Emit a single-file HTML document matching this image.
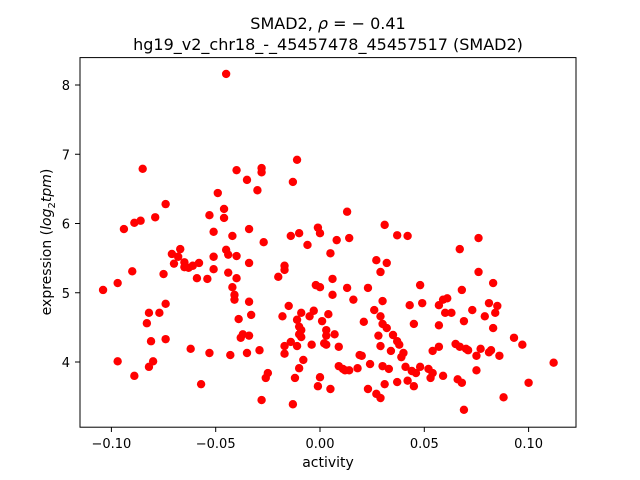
<!DOCTYPE html>
<html><head><meta charset="utf-8"><style>
html,body{margin:0;padding:0;background:#fff;}
svg{display:block;font-family:"DejaVu Sans","Liberation Sans",sans-serif;}
</style></head><body>
<svg id="chart" width="640" height="480" viewBox="0 0 640 480" xmlns="http://www.w3.org/2000/svg">
<rect width="640" height="480" fill="#fff"/>
<text x="328" y="29" font-size="16" text-anchor="middle">SMAD2, <tspan font-style="italic">ρ</tspan> = − 0.41</text>
<text x="328" y="50" font-size="16" text-anchor="middle">hg19_v2_chr18_-_45457478_45457517 (SMAD2)</text>
<g id="marks"></g>
<g id="axes"></g>
<rect x="80" y="57.6" width="496" height="369.6" fill="none" stroke="#000" stroke-width="1"/>
<text x="328" y="467" font-size="14" text-anchor="middle">activity</text>
<text transform="translate(51,242) rotate(-90)" font-size="14" text-anchor="middle">expression (<tspan font-style="italic">log</tspan><tspan font-size="10" dy="4">2</tspan><tspan dy="-4" font-style="italic">tpm</tspan>)</text>
</svg>
<script>
const xTicks=[-0.10,-0.05,0.00,0.05,0.10];
const xTickLabels=["−0.10","−0.05","0.00","0.05","0.10"];
const yTicks=[4,5,6,7,8];
const yTickLabels=["4","5","6","7","8"];
const activity=[-0.104,-0.097,-0.097,-0.094,-0.090,-0.089,-0.086,-0.085,-0.089,-0.083,-0.082,-0.082,-0.081,-0.080,-0.079,-0.077,-0.074,-0.075,-0.074,-0.074,-0.071,-0.070,-0.068,-0.067,-0.065,-0.065,-0.063,-0.062,-0.061,-0.059,-0.058,-0.057,-0.054,-0.053,-0.053,-0.051,-0.051,-0.051,-0.049,-0.046,-0.046,-0.045,-0.045,-0.044,-0.044,-0.043,-0.042,-0.042,-0.041,-0.041,-0.040,-0.040,-0.040,-0.039,-0.038,-0.037,-0.035,-0.035,-0.034,-0.034,-0.034,-0.034,-0.033,-0.030,-0.028,-0.028,-0.029,-0.028,-0.027,-0.026,-0.025,-0.020,-0.018,-0.017,-0.017,-0.017,-0.017,-0.015,-0.014,-0.014,-0.013,-0.013,-0.012,-0.011,-0.010,-0.011,-0.011,-0.010,-0.010,-0.010,-0.009,-0.009,-0.009,-0.008,-0.006,-0.005,-0.004,-0.003,-0.002,-0.001,-0.001,0.000,0.000,0.001,0.000,0.002,0.003,0.003,0.003,0.004,0.005,0.005,0.006,0.006,0.008,0.007,0.009,0.009,0.011,0.012,0.013,0.013,0.014,0.014,0.016,0.018,0.019,0.020,0.021,0.023,0.023,0.024,0.026,0.027,0.027,0.028,0.029,0.029,0.029,0.029,0.030,0.030,0.030,0.031,0.031,0.032,0.032,0.033,0.034,0.035,0.037,0.037,0.037,0.038,0.039,0.040,0.041,0.042,0.042,0.043,0.044,0.045,0.045,0.046,0.048,0.048,0.049,0.052,0.053,0.054,0.054,0.057,0.057,0.057,0.059,0.059,0.060,0.061,0.063,0.065,0.066,0.067,0.067,0.068,0.068,0.069,0.069,0.070,0.071,0.073,0.075,0.075,0.076,0.076,0.077,0.079,0.081,0.081,0.082,0.083,0.083,0.084,0.085,0.086,0.088,0.093,0.097,0.100,0.112];
const expression=[5.04,5.14,4.01,5.92,5.31,6.01,6.04,6.79,3.80,4.56,4.71,3.93,4.30,4.01,6.09,4.71,4.84,5.27,6.28,4.33,5.56,5.42,5.52,5.63,5.44,5.37,5.36,4.19,5.39,5.21,5.43,3.68,5.20,6.12,4.13,5.52,5.34,5.88,6.44,6.08,6.21,8.16,5.62,5.29,5.55,4.10,5.08,5.82,4.90,4.97,6.77,5.53,5.21,4.62,4.35,4.40,6.63,4.13,5.92,5.43,4.87,4.38,4.68,6.48,6.80,6.74,4.17,3.45,5.73,3.77,3.84,5.23,4.66,5.33,5.39,4.12,4.23,4.81,4.29,5.82,6.60,3.39,3.77,6.92,5.86,4.61,4.23,4.51,4.40,3.91,4.36,4.46,4.71,4.03,5.69,4.66,4.25,4.74,5.11,5.94,3.65,3.78,5.08,4.59,5.86,4.27,4.46,4.38,4.25,4.69,3.61,5.57,4.97,5.20,5.76,4.40,4.22,3.94,3.90,3.88,5.07,6.17,5.79,3.88,4.90,3.91,4.10,4.09,4.58,5.07,3.61,3.97,4.75,5.47,3.54,4.38,5.30,4.23,4.66,3.48,3.94,4.88,4.55,3.68,5.98,5.43,4.49,3.90,4.16,4.39,3.71,5.83,4.30,4.25,4.07,4.13,3.93,5.82,3.73,4.82,3.87,3.65,4.55,3.84,5.11,3.93,4.85,3.90,3.77,4.16,3.84,4.22,4.82,4.53,3.80,4.90,4.71,4.92,4.71,4.26,3.75,5.63,4.22,3.70,5.04,3.31,4.59,4.19,4.17,4.75,3.88,4.09,5.30,5.79,4.19,4.66,4.14,4.85,4.17,5.14,4.49,4.71,4.81,4.09,3.49,4.35,4.25,3.70,3.99];
const NS="http://www.w3.org/2000/svg";
function xScale(v){return 320+v*2086;}
function yScale(v){return 362-(v-4)*69.25;}
const marks=document.getElementById('marks');
for(let i=0;i<activity.length;i++){
  const c=document.createElementNS(NS,'circle');
  c.setAttribute('cx',xScale(activity[i]));
  c.setAttribute('cy',yScale(expression[i]));
  c.setAttribute('r',4.2);
  c.setAttribute('fill','#ff0000');
  
  
  marks.appendChild(c);
}
const axes=document.getElementById('axes');
xTicks.forEach((t,i)=>{
  const x=xScale(t);
  const l=document.createElementNS(NS,'line');
  l.setAttribute('x1',x);l.setAttribute('x2',x);l.setAttribute('y1',427.2);l.setAttribute('y2',432);
  l.setAttribute('stroke','#000');
  
  
  axes.appendChild(l);
  const tx=document.createElementNS(NS,'text');
  tx.setAttribute('x',x);tx.setAttribute('y',448);tx.setAttribute('font-size','13');tx.setAttribute('text-anchor','middle');
  tx.textContent=xTickLabels[i];
  
  
  axes.appendChild(tx);
});
yTicks.forEach((t,i)=>{
  const y=yScale(t);
  const l=document.createElementNS(NS,'line');
  l.setAttribute('x1',75);l.setAttribute('x2',80);l.setAttribute('y1',y);l.setAttribute('y2',y);
  l.setAttribute('stroke','#000');
  
  
  axes.appendChild(l);
  const tx=document.createElementNS(NS,'text');
  tx.setAttribute('x',70);tx.setAttribute('y',y+5);tx.setAttribute('font-size','13');tx.setAttribute('text-anchor','end');
  tx.textContent=yTickLabels[i];
  
  
  axes.appendChild(tx);
});
</script>
</body></html>
